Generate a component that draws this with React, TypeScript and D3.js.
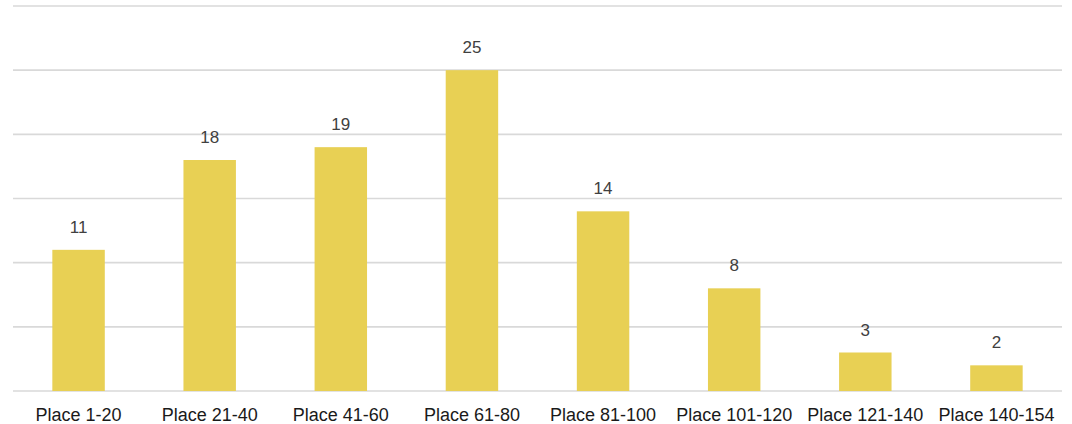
import React from "react";
import * as d3 from "d3";

const categories = ["Place 1-20", "Place 21-40", "Place 41-60", "Place 61-80", "Place 81-100", "Place 101-120", "Place 121-140", "Place 140-154"];
const values = [11, 18, 19, 25, 14, 8, 3, 2];
const yTicks = [0, 5, 10, 15, 20, 25, 30];

const W = 1072;
const H = 424;

export default function App() {
  const x = d3.scaleBand<string>().domain(categories).range([13, 1062]).paddingInner(0.6).paddingOuter(0.3);
  const y = d3.scaleLinear().domain([0, 30]).range([391, 6]);
  return (
    <svg width={W} height={H} style={{ position: "absolute", left: 0, top: 0 }} fontFamily="'Liberation Sans', Arial, sans-serif">
      {yTicks.map((t) => (
        <line key={t} x1={13} x2={1062} y1={y(t)} y2={y(t)} stroke="#d9d9d9" strokeWidth={1.6} />
      ))}
      {categories.map((c, i) => (
        <g key={c}>
          <rect x={x(c)} y={y(values[i])} width={x.bandwidth()} height={y(0) - y(values[i])} fill="#e8d054" />
          <text x={(x(c) ?? 0) + x.bandwidth() / 2} y={y(values[i]) - 17} textAnchor="middle" fontSize={17} fill="#404040">{values[i]}</text>
          <text x={(x(c) ?? 0) + x.bandwidth() / 2} y={421} textAnchor="middle" fontSize={18} fill="#1a1a1a">{c}</text>
        </g>
      ))}
    </svg>
  );
}
